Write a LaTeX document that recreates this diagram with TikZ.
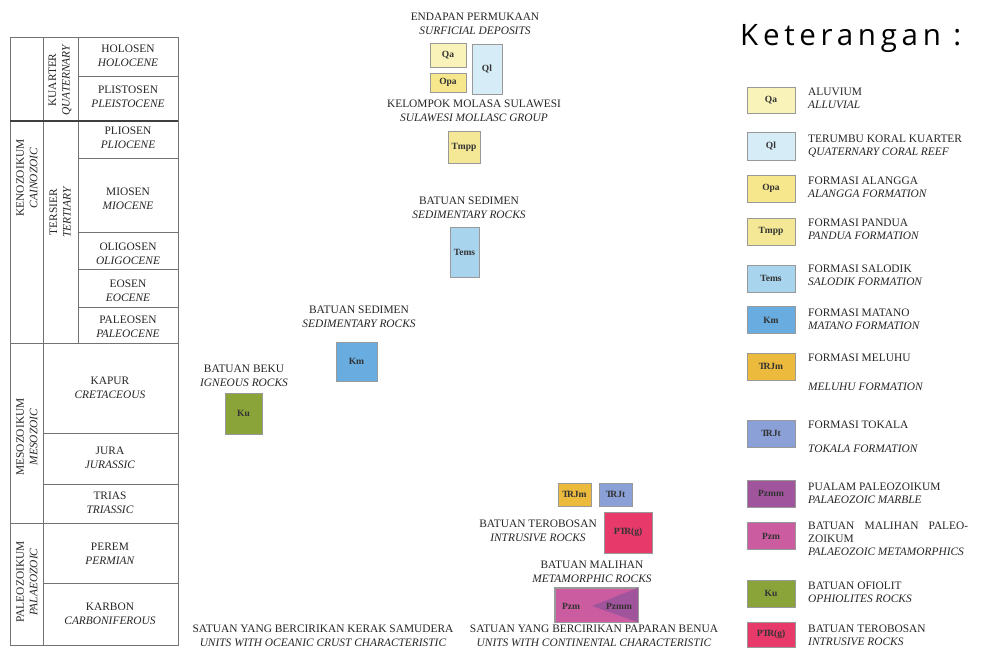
\documentclass[tikz,border=0pt]{standalone}
\usepackage{fontspec}
\setmainfont{Liberation Serif}
\newfontfamily\ketfont{Open Sans}[LetterSpace=16]
\newcommand{\trsym}{T\kern-0.18em R}

\definecolor{qacol}{RGB}{250,243,185}
\definecolor{qlcol}{RGB}{214,236,246}
\definecolor{opacol}{RGB}{246,231,140}
\definecolor{tmppcol}{RGB}{244,232,150}
\definecolor{temscol}{RGB}{168,212,238}
\definecolor{kmcol}{RGB}{104,172,224}
\definecolor{trjmcol}{RGB}{236,186,60}
\definecolor{trjtcol}{RGB}{138,160,214}
\definecolor{pzmmcol}{RGB}{160,84,156}
\definecolor{pzmcol}{RGB}{204,92,160}
\definecolor{kucol}{RGB}{138,164,58}
\definecolor{prgcol}{RGB}{232,58,106}

\begin{document}
\begin{tikzpicture}[x=1pt, y=-1pt,
  lbl/.style={font=\fontsize{11.4}{13.5}\selectfont, text=black!85, inner sep=0pt, align=center, anchor=north},
  leg/.style={font=\fontsize{11.4}{13}\selectfont, text=black!85, inner sep=0pt, align=left, anchor=north west},
  era/.style={lbl, rotate=90, anchor=center},
  unit/.style={draw=black!40, line width=0.6pt, inner sep=0pt, font=\fontsize{9.5}{11}\selectfont\bfseries, text=black!80},
  legbox/.style={unit, minimum width=48, minimum height=27},
  grid/.style={draw=black!55, line width=0.7pt}]
\fill[white] (0,0) rectangle (996,648);
\useasboundingbox (0,0) rectangle (996,648);

% Time table
\draw[grid] (10,37) rectangle (178,645);
\draw[grid] (43,37) -- (43,645);
\draw[grid] (78,37) -- (78,343);
\draw[grid] (78,76) -- (178,76);
\draw[grid, line width=1.4pt, draw=black!75] (10,121) -- (178,121);
\foreach \y in {158,232,269,307} \draw[grid] (78,\y) -- (178,\y);
\draw[grid] (10,343) -- (178,343);
\foreach \y in {433,484,583} \draw[grid] (43,\y) -- (178,\y);
\draw[grid] (10,523) -- (178,523);

% Eras and periods
\node[era] (kenozoikum) at (27,178) {KENOZOIKUM\\\textit{CAINOZOIC}};
\node[era] (kuarter) at (60,80) {KUARTER\\\textit{QUATERNARY}};
\node[era] (tersier) at (60,212) {TERSIER\\\textit{TERTIARY}};
\node[era] (mesozoikum) at (27,437) {MESOZOIKUM\\\textit{MESOZOIC}};
\node[era] (paleozoikum) at (27,582) {PALEOZOIKUM\\\textit{PALAEOZOIC}};

% Epochs
\node[lbl] (holosen) at (128,45) {HOLOSEN\\\textit{HOLOCENE}};
\node[lbl] (plistosen) at (128,86) {PLISTOSEN\\\textit{PLEISTOCENE}};
\node[lbl] (pliosen) at (128,127) {PLIOSEN\\\textit{PLIOCENE}};
\node[lbl] (miosen) at (128,188) {MIOSEN\\\textit{MIOCENE}};
\node[lbl] (oligosen) at (128,243) {OLIGOSEN\\\textit{OLIGOCENE}};
\node[lbl] (eosen) at (128,280) {EOSEN\\\textit{EOCENE}};
\node[lbl] (paleosen) at (128,316) {PALEOSEN\\\textit{PALEOCENE}};
\node[lbl] (kapur) at (110,377) {KAPUR\\\textit{CRETACEOUS}};
\node[lbl] (jura) at (110,447) {JURA\\\textit{JURASSIC}};
\node[lbl] (trias) at (110,492) {TRIAS\\\textit{TRIASSIC}};
\node[lbl] (perem) at (110,543) {PEREM\\\textit{PERMIAN}};
\node[lbl] (karbon) at (110,603) {KARBON\\\textit{CARBONIFEROUS}};

% Surficial deposits
\node[lbl] (endapan) at (475,13) {ENDAPAN PERMUKAAN\\\textit{SURFICIAL DEPOSITS}};
\node[unit, fill=qacol, minimum width=36, minimum height=24] (qa) at (448,55) {Qa};
\node[unit, fill=opacol, minimum width=36, minimum height=19] (opa) at (448,82.5) {Opa};
\node[unit, fill=qlcol, minimum width=30, minimum height=50] (ql) at (487,69) {Ql};

% Molasse
\node[lbl] (molasa) at (474,100) {KELOMPOK MOLASA SULAWESI\\\textit{SULAWESI MOLLASC GROUP}};
\node[unit, fill=tmppcol, minimum width=32, minimum height=32] (tmpp) at (464,147) {Tmpp};

% Sedimentary rocks
\node[lbl] (sedtop) at (469,197) {BATUAN SEDIMEN\\\textit{SEDIMENTARY ROCKS}};
\node[unit, fill=temscol, minimum width=29, minimum height=50] (tems) at (464.5,252) {Tems};
\node[lbl] (sedmid) at (359,306) {BATUAN SEDIMEN\\\textit{SEDIMENTARY ROCKS}};
\node[unit, fill=kmcol, minimum width=41, minimum height=39] (km) at (356.5,361.5) {Km};

% Igneous rocks
\node[lbl] (beku) at (244,365) {BATUAN BEKU\\\textit{IGNEOUS ROCKS}};
\node[unit, fill=kucol, minimum width=37, minimum height=41] (ku) at (243.5,413.5) {Ku};

% Continental units
\node[unit, fill=trjmcol, minimum width=33, minimum height=23] (trjm) at (574.5,494.5) {\trsym Jm};
\node[unit, fill=trjtcol, minimum width=33, minimum height=23] (trjt) at (615.5,494.5) {\trsym Jt};
\node[lbl] (terobosan) at (538,520) {BATUAN TEROBOSAN\\\textit{INTRUSIVE ROCKS}};
\node[unit, fill=prgcol, minimum width=48, minimum height=41] (prg) at (628,532.5) {P\trsym(g)};
\node[lbl] (malihan) at (592,561) {BATUAN MALIHAN\\\textit{METAMORPHIC ROCKS}};
\node[unit, fill=pzmcol, minimum width=83, minimum height=34] (pzm) at (596.5,605) {};
\fill[pzmmcol] (592,606) -- (pzm.north east) -- (pzm.south east) -- cycle;
\draw[draw=black!40, line width=0.6pt] (pzm.north west) rectangle (pzm.south east);
\node[unit, draw=none] (pzmlabel) at (571,606) {Pzm};
\node[unit, draw=none] (pzmmlabel) at (619,606) {Pzmm};

% Captions
\node[lbl] (oceanic) at (323,625) {SATUAN YANG BERCIRIKAN KERAK SAMUDERA\\\textit{UNITS WITH OCEANIC CRUST CHARACTERISTIC}};
\node[lbl] (continental) at (594,625) {SATUAN YANG BERCIRIKAN PAPARAN BENUA\\\textit{UNITS WITH CONTINENTAL CHARACTERISTIC}};

% Legend
\node[anchor=base west, inner sep=0pt, font=\ketfont\fontsize{29.5}{33}\selectfont] (keterangan) at (740,45) {Keterangan :};

\node[legbox, fill=qacol, minimum height=26] (lqa) at (771,100) {Qa};
\node[leg] (tqa) at (808,88) {ALUVIUM\\\textit{ALLUVIAL}};
\node[legbox, fill=qlcol, minimum height=28] (lql) at (771,146) {Ql};
\node[leg] (tql) at (808,135) {TERUMBU KORAL KUARTER\\\textit{QUATERNARY CORAL REEF}};
\node[legbox, fill=opacol] (lopa) at (771,188.5) {Opa};
\node[leg] (topa) at (808,177) {FORMASI ALANGGA\\\textit{ALANGGA FORMATION}};
\node[legbox, fill=tmppcol] (ltmpp) at (771,231.5) {Tmpp};
\node[leg] (ttmpp) at (808,219) {FORMASI PANDUA\\\textit{PANDUA FORMATION}};
\node[legbox, fill=temscol] (ltems) at (771,278.5) {Tems};
\node[leg] (ttems) at (808,265) {FORMASI SALODIK\\\textit{SALODIK FORMATION}};
\node[legbox, fill=kmcol] (lkm) at (771,320) {Km};
\node[leg] (tkm) at (808,309) {FORMASI MATANO\\\textit{MATANO FORMATION}};
\node[legbox, fill=trjmcol] (ltrjm) at (771,366.5) {\trsym Jm};
\node[leg] (ttrjm) at (808,354) {FORMASI MELUHU\\[16pt]\textit{MELUHU FORMATION}};
\node[legbox, fill=trjtcol] (ltrjt) at (771,433.5) {\trsym Jt};
\node[leg] (ttrjt) at (808,421) {FORMASI TOKALA\\[11pt]\textit{TOKALA FORMATION}};
\node[legbox, fill=pzmmcol] (lpzmm) at (771,493.5) {Pzmm};
\node[leg] (tpzmm) at (808,483) {PUALAM PALEOZOIKUM\\\textit{PALAEOZOIC MARBLE}};
\node[legbox, fill=pzmcol] (lpzm) at (771,536) {Pzm};
\node[leg] (tpzm) at (808,522) {\makebox[160pt][s]{BATUAN MALIHAN PALEO-}\\ZOIKUM\\\textit{PALAEOZOIC METAMORPHICS}};
\node[legbox, fill=kucol] (lku) at (771,593.5) {Ku};
\node[leg] (tku) at (808,582) {BATUAN OFIOLIT\\\textit{OPHIOLITES ROCKS}};
\node[legbox, fill=prgcol, minimum height=25] (lprg) at (771,634.5) {P\trsym(g)};
\node[leg] (tprg) at (808,625) {BATUAN TEROBOSAN\\\textit{INTRUSIVE ROCKS}};
\end{tikzpicture}
\end{document}
